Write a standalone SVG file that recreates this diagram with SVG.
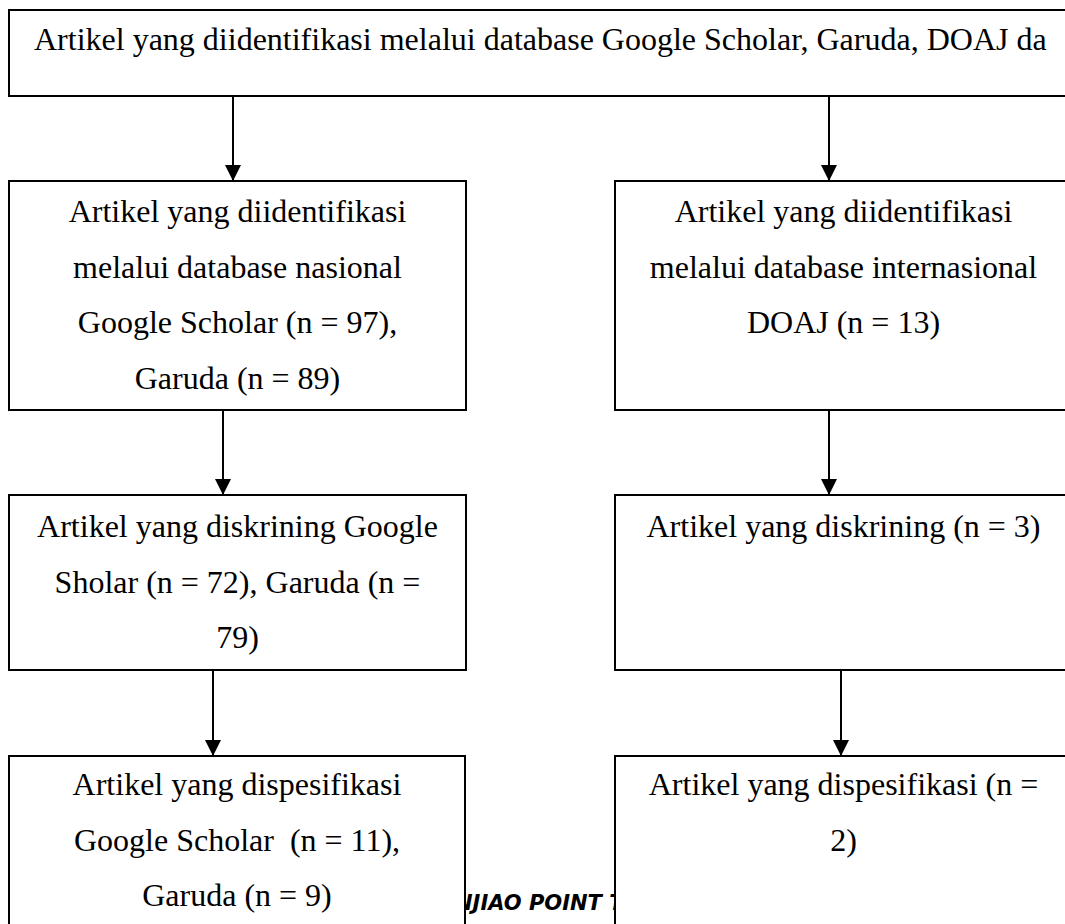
<svg xmlns="http://www.w3.org/2000/svg" width="1065" height="924" viewBox="0 0 1065 924">
<style>
.box{fill:#fff;stroke:#000;stroke-width:2}
.t{font-family:"Liberation Serif","Times New Roman",serif;font-size:32px;fill:#000}
.c{text-anchor:middle}
.edge{stroke:#000;stroke-width:2;fill:none;marker-end:url(#ah)}
.foot{font-family:"DejaVu Sans",sans-serif;font-size:21px;font-weight:bold;font-style:italic;fill:#000}
</style>
<defs>
<marker id="ah" markerUnits="userSpaceOnUse" markerWidth="16" markerHeight="16" viewBox="0 0 15 15" refX="15" refY="7.5" orient="auto">
<path d="M0,0 L15,7.5 L0,15 Z" fill="#000"/>
</marker>
</defs>
<rect width="1065" height="924" fill="#fff"/>
<text class="foot" x="455" y="910">NJIAO POINT T</text>
<g id="n0">
<rect class="box" x="9" y="10" width="1080" height="86"/>
<text class="t" x="34" y="50">Artikel yang diidentifikasi melalui database Google Scholar, Garuda, DOAJ da</text>
</g>
<g id="n1">
<rect class="box" x="9" y="181" width="457" height="229"/>
<text class="t c" x="237.5" y="222">Artikel yang diidentifikasi</text>
<text class="t c" x="237.5" y="277.5">melalui database nasional</text>
<text class="t c" x="237.5" y="333">Google Scholar (n = 97),</text>
<text class="t c" x="237.5" y="388.5">Garuda (n = 89)</text>
</g>
<g id="n2">
<rect class="box" x="615" y="181" width="457" height="229"/>
<text class="t c" x="843.5" y="222">Artikel yang diidentifikasi</text>
<text class="t c" x="843.5" y="277.5">melalui database internasional</text>
<text class="t c" x="843.5" y="333">DOAJ (n = 13)</text>
</g>
<g id="n3">
<rect class="box" x="9" y="495" width="457" height="175"/>
<text class="t c" x="237.5" y="537">Artikel yang diskrining Google</text>
<text class="t c" x="237.5" y="592.5">Sholar (n = 72), Garuda (n =</text>
<text class="t c" x="237.5" y="648">79)</text>
</g>
<g id="n4">
<rect class="box" x="615" y="495" width="457" height="175"/>
<text class="t c" x="843.5" y="537">Artikel yang diskrining (n = 3)</text>
</g>
<g id="n5">
<rect class="box" x="9" y="756" width="456" height="200"/>
<text class="t c" x="237" y="795">Artikel yang dispesifikasi</text>
<text class="t c" x="237" y="850.5" style="white-space:pre">Google Scholar  (n = 11),</text>
<text class="t c" x="237" y="906">Garuda (n = 9)</text>
</g>
<g id="n6">
<rect class="box" x="615" y="756" width="457" height="200"/>
<text class="t c" x="843.5" y="795">Artikel yang dispesifikasi (n =</text>
<text class="t c" x="843.5" y="850.5">2)</text>
</g>
<g id="connectors">
<line class="edge" x1="233" y1="96" x2="233" y2="181"/>
<line class="edge" x1="829" y1="96" x2="829" y2="181"/>
<line class="edge" x1="223" y1="410" x2="223" y2="495"/>
<line class="edge" x1="829" y1="410" x2="829" y2="495"/>
<line class="edge" x1="213" y1="670" x2="213" y2="756"/>
<line class="edge" x1="841" y1="670" x2="841" y2="756"/>
</g>
</svg>
